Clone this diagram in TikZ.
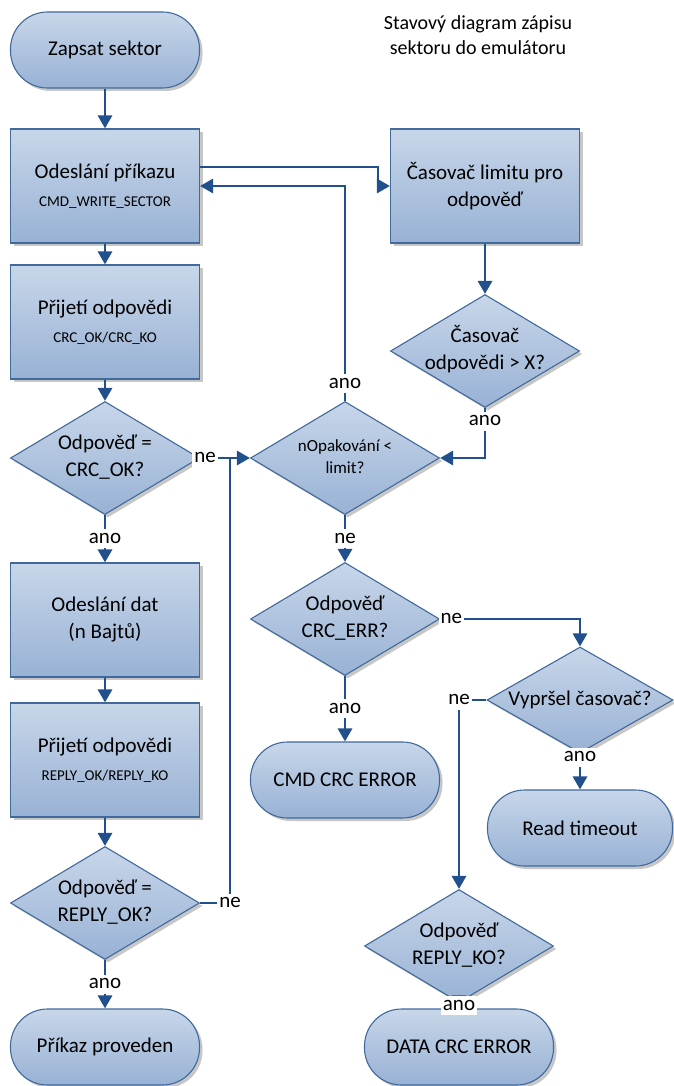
\documentclass[tikz,border=0pt]{standalone}
\usepackage{fontspec}
\setmainfont{Carlito}
\usetikzlibrary{shapes.geometric,arrows.meta,shadows,positioning}

\definecolor{boxtop}{HTML}{C8D6E9}
\definecolor{boxbot}{HTML}{98B2D5}
\definecolor{boxline}{HTML}{41699B}
\definecolor{arrowc}{HTML}{21508C}

% second, smaller line of a box
\newcommand{\subline}[1]{\\[1pt]{\fontsize{15}{18}\selectfont #1}}
% diamond text that does not widen the diamond
\newcommand{\dtext}[2]{\makebox[0pt]{\begin{tabular}{@{}c@{}}#1\\#2\end{tabular}}}

\tikzset{
    base/.style={draw=boxline, line width=1.1pt, top color=boxtop, bottom color=boxbot,
        align=center, font=\fontsize{21}{27}\selectfont,
        drop shadow={shadow xshift=3pt, shadow yshift=-3pt, opacity=0.4, fill=black!55}},
    box/.style={base, rectangle, minimum width=189pt, minimum height=114pt},
    term/.style={base, rectangle, rounded corners=37pt, minimum width=189pt, minimum height=76pt},
    test/.style={base, diamond, aspect=1.67, inner sep=0pt, minimum width=189pt, minimum height=113pt},
    line/.style={draw=arrowc, line width=2.9pt},
    arr/.style={line, -{Triangle[length=13pt,width=14pt]}},
    lbl/.style={fill=white, inner sep=2pt, text height=12pt, text depth=3pt,
        font=\fontsize{21}{25}\selectfont}
}

\begin{document}
\begin{tikzpicture}[x=1pt, y=-1pt, node distance=136pt]
    \useasboundingbox (0,0) rectangle (673,1086);

    % left column
    \node[term] (A) at (105,50) {Zapsat sektor};
    \node[box, below of=A] (B) {Odeslání příkazu\subline{CMD\_WRITE\_SECTOR}};
    \node[box, below of=B] (C) {Přijetí odpovědi\subline{CRC\_OK/CRC\_KO}};
    \node[test, below of=C] (D) {\dtext{Odpověď =}{CRC\_OK?}};
    \node[box, below of=D, node distance=162pt] (E) {Odeslání dat\\(n Bajtů)};
    \node[box, below of=E, node distance=140pt] (F) {Přijetí odpovědi\subline{REPLY\_OK/REPLY\_KO}};
    \node[test, below of=F, node distance=143pt] (G) {\dtext{Odpověď =}{REPLY\_OK?}};
    \node[term, below of=G, node distance=144pt] (H) {Příkaz proveden};

    % right part
    \node[align=center, font=\fontsize{20}{25}\selectfont] (title) at (478,35)
        {Stavový diagram zápisu\\sektoru do emulátoru};
    \node[box, right of=B, node distance=380pt] (T) {Časovač limitu pro\\odpověď};
    \node[test, below of=T, node distance=165pt] (TD) {\dtext{Časovač}{odpovědi > X?}};
    \node[test, right of=D, node distance=240pt, font=\fontsize{17}{22}\selectfont] (N)
        {\dtext{nOpakování <}{limit?}};
    \node[test, below of=N, node distance=161pt] (R) {\dtext{Odpověď}{CRC\_ERR?}};
    \node[term, below of=R, node distance=161pt] (X) {CMD CRC ERROR};
    \node[test, minimum width=186pt, minimum height=106pt] (V) at (580,700)
        {\makebox[0pt]{Vypršel časovač?}};
    \node[term, below of=V, node distance=128pt, minimum width=185pt] (RT) {Read timeout};
    \node[test] (K) at (459,946) {\dtext{Odpověď}{REPLY\_KO?}};
    \node[term, below of=K, node distance=101pt] (DE) {DATA CRC ERROR};
    \coordinate[right of=D, node distance=125pt] (J);

    % connectors
    \draw[arr] (A) -- (B);
    \draw[arr] (B) -- (C);
    \draw[arr] (C) -- (D);
    \draw[arr] (D) -- node[lbl]{ano} (E);
    \draw[arr] (E) -- (F);
    \draw[arr] (F) -- (G);
    \draw[arr] (G) -- node[lbl]{ano} (H);
    \draw[arr] ([yshift=19pt]B.east) -| ([xshift=-12pt]T.west) -- (T.west);
    \draw[arr] (T) -- (TD);
    \draw[arr] (N.north) |- node[lbl, pos=0.04]{ano} (B.east);
    \draw[arr] (TD.south) |- node[lbl, pos=0.13]{ano} (N.east);
    \draw[arr] (D.east) -- node[lbl, pos=0.1]{ne} (N.west);
    \draw[line] (G.east) -| node[lbl]{ne} (J);
    \draw[arr] (N) -- node[lbl]{ne} (R);
    \draw[arr] (R.east) -| node[lbl, pos=0.04]{ne} (V.north);
    \draw[arr] (R) -- node[lbl]{ano} (X);
    \draw[arr] (V.west) -| node[lbl]{ne} (K.north);
    \draw[arr] (V) -- node[lbl, pos=0.1]{ano} (RT);
    \draw[arr] (K) -- node[lbl]{ano} (DE);
\end{tikzpicture}
\end{document}
